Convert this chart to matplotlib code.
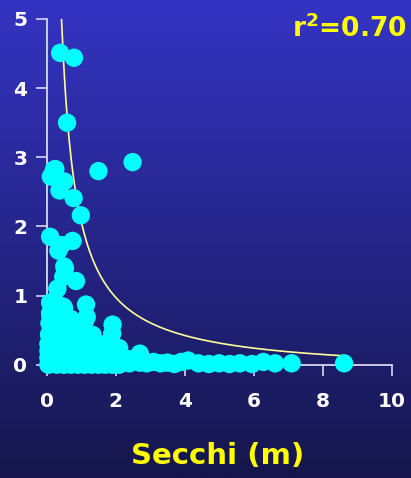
import numpy as np
import matplotlib
matplotlib.use("Agg")
import matplotlib.pyplot as plt
from matplotlib.colors import LinearSegmentedColormap

# ---- data ----
secchi_high = [0.39, 0.79, 0.59, 2.49, 1.50, 0.25, 0.12, 0.21, 0.51, 0.37, 0.78, 0.99,
               0.10, 0.43, 0.75, 0.34, 0.51, 0.53, 0.48, 0.85, 0.31, 1.14, 0.19, 0.48,
               0.10, 1.16, 1.91, 1.33, 0.07, 2.70]
chl_high = [4.51, 4.44, 3.50, 2.93, 2.80, 2.83, 2.72, 2.82, 2.65, 2.52, 2.41, 2.16,
            1.85, 1.73, 1.79, 1.65, 1.42, 1.39, 1.27, 1.21, 1.10, 0.87, 0.84, 0.84,
            0.72, 0.69, 0.58, 0.43, 0.43, 0.16]

secchi_low = [0.05, 0.05, 0.05, 0.05, 0.08, 0.08, 0.10, 0.10,
              0.3, 0.3, 0.3, 0.3, 0.3, 0.3,
              0.5, 0.5, 0.5, 0.5, 0.5, 0.5,
              0.7, 0.7, 0.7, 0.7, 0.7,
              0.9, 0.9, 0.9, 0.9,
              1.1, 1.1, 1.1, 1.1,
              1.3, 1.3, 1.3,
              1.5, 1.5, 1.5,
              1.7, 1.7, 1.7,
              1.9, 1.9, 1.9, 1.9,
              2.1, 2.1, 2.1,
              0.2, 0.4, 0.6, 0.8, 1.0, 1.2, 1.4, 1.6, 1.8,
              0.2, 0.4, 0.6, 0.8, 1.0, 1.2, 1.4, 1.6, 1.8, 2.0,
              2.4, 2.4, 2.7,
              2.9, 3.1, 3.3, 3.5, 3.7, 3.9, 4.1, 4.4, 4.7, 5.0, 5.3, 5.6, 5.95,
              6.28, 6.62, 7.10, 8.62]
chl_low = [0.0, 0.1, 0.2, 0.3, 0.45, 0.6, 0.75, 0.9,
           0.0, 0.15, 0.3, 0.5, 0.7, 0.88,
           0.0, 0.1, 0.25, 0.45, 0.65, 0.82,
           0.0, 0.2, 0.4, 0.55, 0.66,
           0.0, 0.15, 0.35, 0.52,
           0.0, 0.2, 0.4, 0.62,
           0.0, 0.15, 0.3,
           0.0, 0.1, 0.25,
           0.0, 0.15, 0.3,
           0.0, 0.1, 0.25, 0.45,
           0.0, 0.12, 0.24,
           0.2, 0.2, 0.35, 0.3, 0.25, 0.3, 0.22, 0.18, 0.2,
           0.05, 0.05, 0.08, 0.1, 0.06, 0.08, 0.06, 0.05, 0.07, 0.05,
           0.02, 0.08, 0.03,
           0.02, 0.04, 0.02, 0.03, 0.01, 0.04, 0.06, 0.02, 0.01, 0.02, 0.01, 0.02, 0.01,
           0.04, 0.02, 0.02, 0.02]

fit_a = 2.2
fit_c = -0.127
fit_xmin, fit_xmax = 0.43, 8.6

xticks = [0, 2, 4, 6, 8, 10]
yticks = [0, 1, 2, 3, 4, 5]

# ---- figure ----
W, H, DPI = 411, 478, 100
fig = plt.figure(figsize=(W / DPI, H / DPI), dpi=DPI)

# gradient background
bg = fig.add_axes([0, 0, 1, 1], zorder=-10)
cmap = LinearSegmentedColormap.from_list("bg", ["#3434c4", "#25258a", "#16164c"])
grad = np.linspace(0, 1, 256).reshape(-1, 1)
bg.imshow(grad, aspect="auto", cmap=cmap, extent=[0, 1, 0, 1])
bg.axis("off")

ax = fig.add_axes([46.7 / W, 1 - 364.7 / H, 345 / W, (364.7 - 19) / H])
ax.patch.set_alpha(0)
ax.set_xlim(0, 10)
ax.set_ylim(0, 5)
for s in ["top", "right"]:
    ax.spines[s].set_visible(False)
for s in ["left", "bottom"]:
    ax.spines[s].set_color("#d8d8f0")
    ax.spines[s].set_linewidth(1.3)

ax.set_xticks(xticks)
ax.set_yticks(yticks)
ax.tick_params(colors="#c8c8e8", length=8, width=1.3, labelcolor="white",
               labelsize=14.5)
ax.tick_params(axis="x", pad=12)
ax.tick_params(axis="y", pad=6)
for lab in ax.get_xticklabels() + ax.get_yticklabels():
    lab.set_fontweight("bold")

xs = np.linspace(fit_xmin, fit_xmax, 300)
ax.plot(xs, fit_a / xs + fit_c, color="#ffff99", lw=1.2, zorder=3, clip_on=False)

ax.scatter(secchi_low, chl_low, s=175, color="#00ffff", edgecolors="none",
           zorder=4, clip_on=False)
ax.scatter(secchi_high, chl_high, s=175, color="#00ffff", edgecolors="none",
           zorder=4, clip_on=False)

fig.text(218 / W, 1 - 456 / H, "Secchi (m)", color="#ffff00", fontsize=21,
         fontweight="bold", ha="center", va="center")
fig.text(407 / W, 1 - 29 / H, r"r$^\mathbf{2}$=0.70", color="#ffff00", fontsize=19,
         fontweight="bold", ha="right", va="center")

fig.savefig("out.png", dpi=DPI)
